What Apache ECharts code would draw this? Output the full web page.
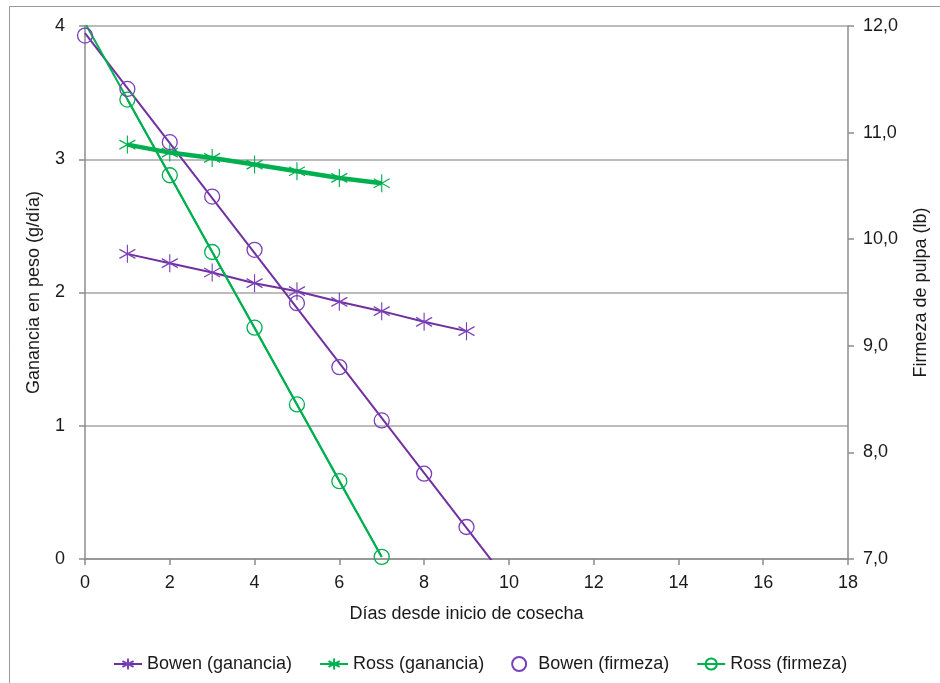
<!DOCTYPE html>
<html><head><meta charset="utf-8">
<script src="https://cdn.jsdelivr.net/npm/echarts@6/dist/echarts.min.js"></script>
<style>html,body{margin:0;padding:0;background:#fff}#c{width:940px;height:683px}</style>
</head><body><div id="c"></div>
<script>
// ---- data ----
const bowenGananciaDias = [1, 2, 3, 4, 5, 6, 7, 8, 9];
const bowenGanancia     = [2.29, 2.22, 2.15, 2.07, 2.01, 1.93, 1.86, 1.78, 1.71];
const rossGananciaDias  = [1, 2, 3, 4, 5, 6, 7];
const rossGanancia      = [3.11, 3.05, 3.01, 2.96, 2.91, 2.86, 2.82];
const bowenFirmezaDias  = [0, 1, 2, 3, 4, 5, 6, 7, 8, 9];
const bowenFirmeza      = [11.91, 11.41, 10.91, 10.40, 9.90, 9.40, 8.80, 8.30, 7.80, 7.30];
const rossFirmezaDias   = [1, 2, 3, 4, 5, 6, 7];
const rossFirmeza       = [11.31, 10.60, 9.88, 9.17, 8.45, 7.73, 7.02];
const legendNames = ['Bowen (ganancia)', 'Ross (ganancia)', 'Bowen (firmeza)', 'Ross (firmeza)'];

const PURPLE = '#7030A0', GREEN = '#00B050';
const FONT = 'Liberation Sans, Arial, sans-serif';
const TXT = '#1a1a1a', AX = '#8c8c8c';

function pairs(xs, ys) { return xs.map((x, i) => [x, ys[i]]); }
function fit(xs, ys) {
  const n = xs.length, mx = xs.reduce((a, b) => a + b) / n, my = ys.reduce((a, b) => a + b) / n;
  let sxy = 0, sxx = 0;
  xs.forEach((x, i) => { sxy += (x - mx) * (ys[i] - my); sxx += (x - mx) * (x - mx); });
  const b = sxy / sxx; return { a: my - b * mx, b };
}
function trend(xs, ys, x0, x1) { const f = fit(xs, ys); return [[x0, f.a + f.b * x0], [x1, f.a + f.b * x1]]; }

const STAR = 'path://M0,-10L0,10M-8.66,-5L8.66,5M-8.66,5L8.66,-5';

const chart = echarts.init(document.getElementById('c'), null, { renderer: 'canvas' });
chart.setOption({
  animation: false,
  backgroundColor: '#fff',
  textStyle: { fontFamily: FONT },
  graphic: [{ type: 'rect', shape: { x: 9.5, y: 6.5, width: 1000, height: 1000 }, style: { fill: 'none', stroke: '#999', lineWidth: 1 }, silent: true }],
  grid: { left: 85, right: 92, top: 26, bottom: 124, containLabel: false },
  legend: {
    data: legendNames, top: 650, left: 108, itemWidth: 28, itemHeight: 14, itemGap: 27,
    textStyle: { fontSize: 18, color: TXT, fontFamily: FONT }
  },
  xAxis: {
    type: 'value', min: 0, max: 18, interval: 2,
    name: 'Días desde inicio de cosecha', nameLocation: 'middle', nameGap: 46,
    nameTextStyle: { fontSize: 18, color: TXT, fontFamily: FONT },
    axisLine: { show: true, lineStyle: { color: AX, width: 1.5 } },
    axisTick: { show: true, length: 6, lineStyle: { color: AX, width: 1.5 } },
    axisLabel: { fontSize: 18, color: TXT, margin: 15, fontFamily: FONT },
    splitLine: { show: false }
  },
  yAxis: [{
    type: 'value', min: 0, max: 4, interval: 1, position: 'left',
    name: 'Ganancia en peso (g/día)', nameLocation: 'middle', nameGap: 42, nameRotate: 90,
    nameTextStyle: { fontSize: 18, color: TXT, fontFamily: FONT },
    axisLine: { show: true, lineStyle: { color: AX, width: 1.5 } },
    axisTick: { show: true, length: 6, lineStyle: { color: AX, width: 1.5 } },
    axisLabel: { fontSize: 18, color: TXT, margin: 20, fontFamily: FONT },
    splitLine: { show: true, lineStyle: { color: '#a6a6a6', width: 1.5 } }
  }, {
    type: 'value', min: 7, max: 12, interval: 1, position: 'right',
    name: 'Firmeza de pulpa (lb)', nameLocation: 'middle', nameGap: 64, nameRotate: 90,
    nameTextStyle: { fontSize: 18, color: TXT, fontFamily: FONT },
    axisLine: { show: true, lineStyle: { color: AX, width: 1.5 } },
    axisTick: { show: true, length: 6, lineStyle: { color: AX, width: 1.5 } },
    axisLabel: { fontSize: 18, color: TXT, margin: 15, fontFamily: FONT, formatter: v => v.toFixed(1).replace('.', ',') },
    splitLine: { show: false }
  }],
  series: [
    { name: 'tendencia Bowen firmeza', type: 'line', yAxisIndex: 1, data: trend(bowenFirmezaDias, bowenFirmeza, 0, 10),
      showSymbol: false, symbol: 'none', clip: true, lineStyle: { color: PURPLE, width: 2 }, z: 2 },
    { name: 'tendencia Ross firmeza', type: 'line', yAxisIndex: 1, data: trend(rossFirmezaDias, rossFirmeza, 0, 7),
      showSymbol: false, symbol: 'none', clip: true, lineStyle: { color: GREEN, width: 2 }, z: 2 },
    { name: 'Bowen (ganancia)', type: 'line', yAxisIndex: 0, data: pairs(bowenGananciaDias, bowenGanancia),
      symbol: STAR, symbolSize: [16, 18], color: PURPLE,
      lineStyle: { color: PURPLE, width: 2 },
      itemStyle: { color: PURPLE, borderColor: '#7a40b8', borderWidth: 1.2 }, z: 3 },
    { name: 'Ross (ganancia)', type: 'line', yAxisIndex: 0, data: pairs(rossGananciaDias, rossGanancia),
      symbol: STAR, symbolSize: [16, 18], color: GREEN,
      lineStyle: { color: GREEN, width: 4.5 },
      itemStyle: { color: GREEN, borderColor: GREEN, borderWidth: 1.2 }, z: 3 },
    { name: 'Bowen (firmeza)', type: 'scatter', yAxisIndex: 1, data: pairs(bowenFirmezaDias, bowenFirmeza),
      symbol: 'circle', symbolSize: 15, color: PURPLE,
      itemStyle: { color: 'rgba(255,255,255,0)', borderColor: '#7a40b8', borderWidth: 1.3, opacity: 1 }, z: 4 },
    { name: 'Ross (firmeza)', type: 'line', yAxisIndex: 1, data: pairs(rossFirmezaDias, rossFirmeza),
      symbol: 'circle', symbolSize: 15, color: GREEN,
      lineStyle: { color: GREEN, width: 2 },
      itemStyle: { color: 'rgba(255,255,255,0)', borderColor: GREEN, borderWidth: 1.3 }, z: 4 }
  ]
});
</script></body></html>
